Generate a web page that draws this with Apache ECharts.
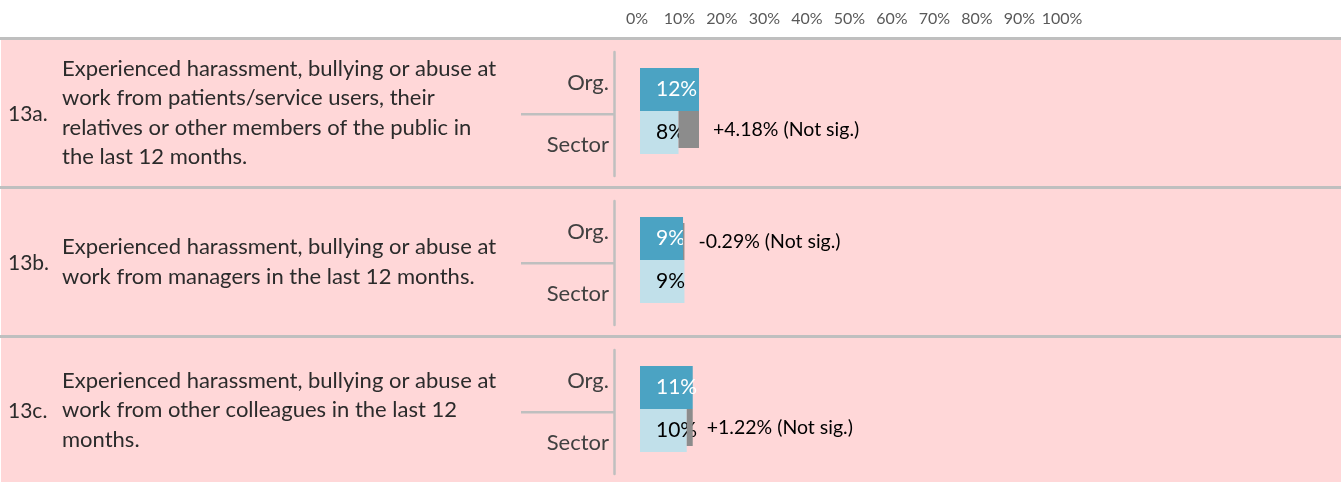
<!DOCTYPE html>
<html>
<head>
<meta charset="utf-8">
<script src="https://cdn.jsdelivr.net/npm/echarts@6/dist/echarts.min.js"></script>
<style>
html,body{margin:0;padding:0;background:#fff;}
#chart{width:1341px;height:482px;}
</style>
</head>
<body>
<div id="chart"></div>
<script>
// ---- data ----
const questionNums = ['13a.', '13b.', '13c.'];
const questionTexts = [
  'Experienced harassment, bullying or abuse at\nwork from patients/service users, their\nrelatives or other members of the public in\nthe last 12 months.',
  'Experienced harassment, bullying or abuse at\nwork from managers in the last 12 months.',
  'Experienced harassment, bullying or abuse at\nwork from other colleagues in the last 12\nmonths.'
];
const rowLabels = ['Org.', 'Sector'];
const orgValues = [12.04, 8.78, 10.76];
const sectorValues = [7.86, 9.07, 9.54];
const diffLabels = ['+4.18%', '-0.29%', '+1.22%'];
const sigLabels = ['Not sig.', 'Not sig.', 'Not sig.'];
const axisMin = 0, axisMax = 100, axisStep = 10;

// ---- style / layout ----
const FONT = 'Lato, "Open Sans", sans-serif';
const PINK = '#FFD7D8';
const LINE = '#BFBFBF';
const ORG_COLOR = '#4BA3C3';
const SEC_COLOR = '#C1E0EA';
const DIFF_COLOR = '#8C8C8C';
const W = 1341, H = 482;
const sectionTops = [40, 189, 338];
const sectionBottoms = [186, 335, 482];

const chart = echarts.init(document.getElementById('chart'), null, {renderer: 'canvas'});

const grids = [], xAxes = [], yAxes = [], series = [], graphics = [];

// top tick axis
grids.push({left: 637, width: 425, top: 30, height: 4});
xAxes.push({gridIndex: 0, type: 'value', position: 'top', min: axisMin, max: axisMax, interval: axisStep,
  axisLine: {show: false}, axisTick: {show: false}, splitLine: {show: false},
  axisLabel: {formatter: '{value}%', color: '#595959', fontSize: 16, fontFamily: FONT, margin: 3}});
yAxes.push({gridIndex: 0, type: 'value', show: false});

// backgrounds & separators
graphics.push({type: 'rect', shape: {x: 1, y: 40, width: W - 1, height: H - 40}, style: {fill: PINK}, z: -10});
[37, 186, 335].forEach(y => graphics.push({type: 'rect', shape: {x: 0, y: y, width: W, height: 3}, style: {fill: LINE}, z: -5}));

for (let i = 0; i < 3; i++) {
  const top = sectionTops[i];
  const mid = (top + sectionBottoms[i]) / 2;
  // question number & text
  graphics.push({type: 'text', x: 8, y: mid + 1, style: {text: questionNums[i], fill: '#2b2b2b', font: '21px ' + FONT, textVerticalAlign: 'middle', verticalAlign: 'middle'}});
  graphics.push({type: 'text', x: 62, y: mid, style: {text: questionTexts[i], fill: '#2b2b2b', font: '22px ' + FONT, lineHeight: 29.5, textVerticalAlign: 'middle', verticalAlign: 'middle'}});
  // separator tick between Org./Sector
  graphics.push({type: 'rect', shape: {x: 521, y: top + 73, width: 94, height: 2.5}, style: {fill: LINE}});

  // label grid (row labels + axis line)
  const gl = grids.length;
  grids.push({left: 614, width: 10, top: top + 12, height: 124});
  xAxes.push({gridIndex: gl, type: 'value', show: false});
  yAxes.push({gridIndex: gl, type: 'category', data: rowLabels, inverse: true,
    axisLine: {show: true, lineStyle: {color: LINE, width: 2.5}}, axisTick: {show: false},
    axisLabel: {color: '#404040', fontSize: 22, fontFamily: FONT, margin: 5}});

  // bar grid
  const gb = grids.length;
  grids.push({left: 640, width: 490, top: top + 28, height: 86});
  xAxes.push({gridIndex: gb, type: 'value', min: axisMin, max: axisMax, show: false});
  yAxes.push({gridIndex: gb, type: 'category', data: rowLabels, inverse: true, show: false});

  series.push({
    type: 'bar', xAxisIndex: gb, yAxisIndex: gb, barCategoryGap: '0%', barWidth: '100%',
    data: [
      {value: orgValues[i], itemStyle: {color: ORG_COLOR}, label: {color: '#ffffff'}},
      {value: sectorValues[i], itemStyle: {color: SEC_COLOR}, label: {color: '#000000'}}
    ],
    label: {show: true, position: [16, '50%'], align: 'left', verticalAlign: 'middle',
      fontSize: 21, fontFamily: FONT, formatter: p => Math.round(p.value) + '%'},
    z: 2
  });

  const o = orgValues[i], s = sectorValues[i];
  const row = o > s ? 1 : 0;
  series.push({
    type: 'custom', xAxisIndex: gb, yAxisIndex: gb, z: 3,
    encode: {x: [0, 1], y: 2},
    data: [[Math.min(o, s), Math.max(o, s), row, diffLabels[i] + ' (' + sigLabels[i] + ')']],
    renderItem: function (params, api) {
      const r = api.value(2);
      const lo = api.coord([api.value(0), r]);
      const hi = api.coord([api.value(1), r]);
      const band = api.size([0, 1])[1];
      const h = band * 0.86;
      const bandTop = lo[1] - band / 2;
      const y0 = r === 1 ? bandTop : bandTop + band - h;
      return {
        type: 'group',
        children: [
          {type: 'rect', shape: {x: lo[0], y: y0, width: Math.max(hi[0] - lo[0], 1), height: h}, style: {fill: DIFF_COLOR}},
          {type: 'text', x: hi[0] + 14, y: y0 + h / 2, z2: 10,
            style: {text: api.value(3), fill: '#000', font: '19.5px ' + FONT, verticalAlign: 'middle', textVerticalAlign: 'middle'}}
        ]
      };
    }
  });
}

chart.setOption({
  animation: false,
  backgroundColor: '#ffffff',
  grid: grids, xAxis: xAxes, yAxis: yAxes, series: series,
  graphic: graphics
});
</script>
</body>
</html>
